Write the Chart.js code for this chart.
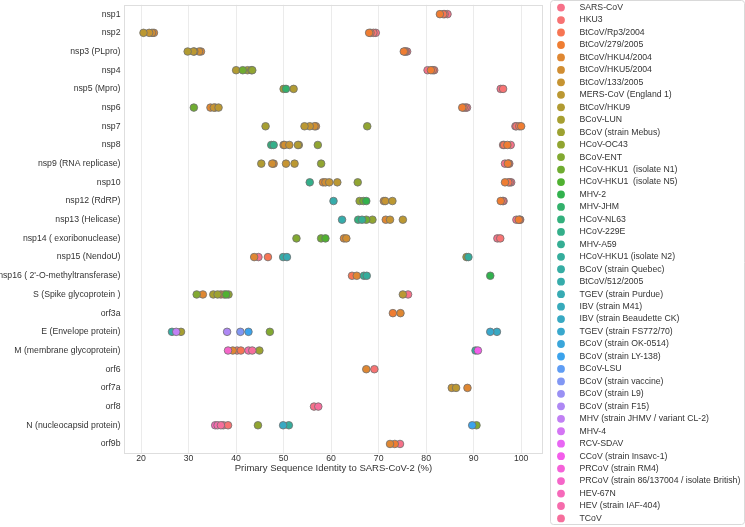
<!DOCTYPE html>
<html>
<head>
<meta charset="utf-8">
<script src="https://cdn.jsdelivr.net/npm/chart.js@4.4.0/dist/chart.umd.min.js"></script>
<style>
  html, body { margin: 0; padding: 0; background: #fff; }
</style>
</head>
<body>
<canvas id="stripChart" width="745" height="527"></canvas>
<script>
// Protein rows (top to bottom)
const proteins = ["nsp1", "nsp2", "nsp3 (PLpro)", "nsp4", "nsp5 (Mpro)", "nsp6", "nsp7", "nsp8",
    "nsp9 (RNA replicase)", "nsp10", "nsp12 (RdRP)", "nsp13 (Helicase)", "nsp14 ( exoribonuclease)",
    "nsp15 (NendoU)", "nsp16 ( 2'-O-methyltransferase)", "S (Spike glycoprotein )", "orf3a",
    "E (Envelope protein)", "M (membrane glycoprotein)", "orf6", "orf7a", "orf8",
    "N (nucleocapsid protein)", "orf9b"];

const xTicks = [20, 30, 40, 50, 60, 70, 80, 90, 100];

const _ = null;
// columns: nsp1..nsp5 | nsp6..nsp10 | nsp12..nsp16 | S orf3a E M orf6 | orf7a orf8 N orf9b
const sarsCoV      = [84.5, 69.4, 76.0, 80.3, 95.7,  88.6, 98.8, 97.8, 96.6, 97.9,  96.3, 99.0, 95.0, 44.7, _,  76.2, _, _, _, _,  _, 56.4, 37.3, 74.5];
const hku3         = [83.9, 68.9, 75.7, 81.7, 96.2,  88.3, 99.0, 96.2, 97.5, 97.6,  96.1, 99.8, 95.6, _, _,  _, _, _, 40.2, 69.1,  _, _, 38.3, _];
const btRp3        = [83.6, 68.3, 75.5, 81.4, _,  87.9, 99.6, 96.4, 97.3, 97.3,  _, 99.7, _, 46.7, 64.4,  36.8, _, _, 41.0, _,  _, _, _, _];
const bt279        = [82.9, 68.0, 75.3, 81.0, _,  87.6, 100, 97.1, 97.2, 96.6,  95.7, 99.5, _, _, _,  _, 73.0, _, _, _,  _, _, _, 73.4];
const btHku4       = [_, 22.7, 32.6, _, _,  34.6, 56.8, 50.0, 47.9, 58.3,  71.1, 71.5, 62.7, 43.8, 65.4,  33.0, 74.6, _, 39.3, 67.4,  88.7, _, _, 72.4];
const btHku5       = [_, 22.3, 32.2, _, _,  35.6, 56.5, 50.2, 47.6, 58.8,  _, _, 63.2, _, _,  37.5, _, _, _, _,  _, _, _, _];
const bt133        = [_, 21.7, 31.2, _, _,  35.3, 55.5, 51.2, 50.5, 59.6,  71.4, 72.4, _, _, _,  _, _, _, _, _,  85.4, _, _, _];
const mersCoV      = [_, 20.5, 31.0, _, _,  36.3, 54.4, 53.2, 52.3, 61.3,  72.9, 75.1, _, _, _,  75.1, _, _, _, _,  86.3, _, _, _];
const btHku9       = [_, _, 29.8, 40.0, 52.1,  _, _, 53.0, 45.3, _,  _, _, _, _, _,  _, _, _, _, _,  _, _, _, _];
const bcovLun      = [_, _, _, 42.4, 50.0,  _, 46.2, _, _, _,  _, _, _, 88.5, _,  35.2, _, 28.4, _, _,  _, _, _, _];
const bcovMebus    = [_, _, _, 43.2, _,  _, _, _, _, _,  _, _, _, _, _,  36.1, _, _, 44.9, _,  _, _, _, _];
const hcovOc43     = [_, _, _, 43.4, _,  _, 67.6, 57.2, 57.9, 65.6,  66.0, 68.7, _, _, _,  38.4, _, _, _, _,  _, _, 44.6, _];
const bcovEnt      = [_, _, _, _, _,  _, _, _, _, _,  _, _, 52.7, _, _,  31.7, _, 47.1, _, _,  _, _, 90.6, _];
const hku1N1       = [_, _, _, 41.4, _,  31.1, _, _, _, _,  66.8, 67.4, 57.9, _, _,  _, _, _, _, _,  _, _, _, _];
const hku1N5       = [_, _, _, _, _,  _, _, _, _, _,  _, _, 58.8, _, _,  37.9, _, _, _, _,  _, _, _, _];
const mhv2         = [_, _, _, _, _,  _, _, _, _, _,  67.4, _, _, _, 93.5,  _, _, _, _, _,  _, _, _, _];
const mhvJhm       = [_, _, _, _, 50.5,  _, _, _, _, _,  _, _, _, _, _,  _, _, _, _, _,  _, _, _, _];
const hcovNl63     = [_, _, _, _, _,  _, _, 47.4, _, _,  _, 65.7, _, _, _,  _, _, _, _, _,  _, _, _, _];
const hcov229e     = [_, _, _, _, _,  _, _, 47.9, _, 55.5,  _, _, _, _, _,  _, _, _, _, _,  _, _, _, _];
const mhvA59       = [_, _, _, _, _,  _, _, _, _, _,  _, 66.5, _, _, 66.9,  _, _, _, _, _,  _, _, _, _];
const hku1N2       = [_, _, _, _, _,  _, _, _, _, _,  _, _, _, 88.9, 67.5,  _, _, _, 90.4, _,  _, _, 51.1, _];
const bcovQuebec   = [_, _, _, _, _,  _, _, _, _, _,  _, _, _, 49.9, _,  _, _, 26.5, _, _,  _, _, _, _];
const bt512        = [_, _, _, _, _,  _, _, _, _, _,  60.5, 62.3, _, _, _,  _, _, _, _, _,  _, _, _, _];
const tgevPurdue   = [_, _, _, _, _,  _, _, _, _, _,  _, _, _, 50.7, _,  _, _, _, _, _,  _, _, _, _];
const ibvM41       = [];
const ibvBeaudette = [_, _, _, _, _,  _, _, _, _, _,  _, _, _, _, _,  _, _, 94.9, _, _,  _, _, 49.9, _];
const tgevFs772    = [_, _, _, _, _,  _, _, _, _, _,  _, _, _, _, _,  _, _, 93.5, _, _,  _, _, _, _];
const bcovOk0514   = [];
const bcovLy138    = [_, _, _, _, _,  _, _, _, _, _,  _, _, _, _, _,  _, _, 42.6, _, _,  _, _, 89.7, _];
const bcovLsu      = [];
const bcovVaccine  = [_, _, _, _, _,  _, _, _, _, _,  _, _, _, _, _,  _, _, 40.9, _, _,  _, _, _, _];
const bcovL9       = [];
const bcovF15      = [_, _, _, _, _,  _, _, _, _, _,  _, _, _, _, _,  _, _, 38.1, _, _,  _, _, _, _];
const mhvJhmv      = [_, _, _, _, _,  _, _, _, _, _,  _, _, _, _, _,  _, _, 27.4, _, _,  _, _, _, _];
const mhv4         = [];
const rcvSdav      = [];
const ccovInsavc   = [_, _, _, _, _,  _, _, _, _, _,  _, _, _, _, _,  _, _, _, 90.9, _,  _, _, _, _];
const prcovRm4     = [];
const prcov86      = [_, _, _, _, _,  _, _, _, _, _,  _, _, _, _, _,  _, _, _, 38.3, _,  _, _, _, _];
const hev67n       = [_, _, _, _, _,  _, _, _, _, _,  _, _, _, _, _,  _, _, _, _, _,  _, _, 35.6, _];
const hevIaf       = [_, _, _, _, _,  _, _, _, _, _,  _, _, _, _, _,  _, _, _, 42.6, _,  _, _, 36.1, _];
const tcov         = [_, _, _, _, _,  _, _, _, _, _,  _, _, _, _, _,  _, _, _, 43.4, _,  _, 57.3, 36.8, _];

const strains = [
    ["SARS-CoV", sarsCoV], ["HKU3", hku3], ["BtCoV/Rp3/2004", btRp3], ["BtCoV/279/2005", bt279],
    ["BtCoV/HKU4/2004", btHku4], ["BtCoV/HKU5/2004", btHku5], ["BtCoV/133/2005", bt133],
    ["MERS-CoV (England 1)", mersCoV], ["BtCoV/HKU9", btHku9], ["BCoV-LUN", bcovLun],
    ["BCoV (strain Mebus)", bcovMebus], ["HCoV-OC43", hcovOc43], ["BCoV-ENT", bcovEnt],
    ["HCoV-HKU1  (isolate N1)", hku1N1], ["HCoV-HKU1  (isolate N5)", hku1N5], ["MHV-2", mhv2],
    ["MHV-JHM", mhvJhm], ["HCoV-NL63", hcovNl63], ["HCoV-229E", hcov229e], ["MHV-A59", mhvA59],
    ["HCoV-HKU1 (isolate N2)", hku1N2], ["BCoV (strain Quebec)", bcovQuebec], ["BtCoV/512/2005", bt512],
    ["TGEV (strain Purdue)", tgevPurdue], ["IBV (strain M41)", ibvM41], ["IBV (strain Beaudette CK)", ibvBeaudette],
    ["TGEV (strain FS772/70)", tgevFs772], ["BCoV (strain OK-0514)", bcovOk0514], ["BCoV (strain LY-138)", bcovLy138],
    ["BCoV-LSU", bcovLsu], ["BCoV (strain vaccine)", bcovVaccine], ["BCoV (strain L9)", bcovL9],
    ["BCoV (strain F15)", bcovF15], ["MHV (strain JHMV / variant CL-2)", mhvJhmv], ["MHV-4", mhv4],
    ["RCV-SDAV", rcvSdav], ["CCoV (strain Insavc-1)", ccovInsavc], ["PRCoV (strain RM4)", prcovRm4],
    ["PRCoV (strain 86/137004 / isolate British)", prcov86], ["HEV-67N", hev67n],
    ["HEV (strain IAF-404)", hevIaf], ["TCoV", tcov]
];

// seaborn-style husl palette
function huslToRgb(h, s, l) {
    const m = [[3.2406, -1.5372, -0.4986], [-0.9689, 1.8758, 0.0415], [0.0557, -0.2040, 1.0570]];
    const refU = 0.19784, refV = 0.46834, labE = 0.008856, labK = 903.3;
    const hrad = h * Math.PI / 180;
    const sinH = Math.sin(hrad), cosH = Math.cos(hrad);
    const sub1 = Math.pow(l + 16, 3) / 1560896;
    const sub2 = sub1 > labE ? sub1 : l / labK;
    let maxC = Infinity;
    m.forEach(([m1, m2, m3]) => {
        const top = (0.99915 * m1 + 1.05122 * m2 + 1.14460 * m3) * sub2;
        const rb = 0.86330 * m3 - 0.17266 * m2;
        const lb = 0.12949 * m3 - 0.38848 * m1;
        const bottom = (rb * sinH + lb * cosH) * sub2;
        [0, 1].forEach(t => {
            const c = l * (top - 1.05122 * t) / (bottom + 0.17266 * sinH * t);
            if (c > 0 && c < maxC) maxC = c;
        });
    });
    const C = maxC / 100 * s;
    const U = Math.cos(hrad) * C, V = Math.sin(hrad) * C;
    const t = (l + 16) / 116;
    const Y = Math.pow(t, 3) > labE ? Math.pow(t, 3) : (116 * t - 16) / labK;
    const vu = U / (13 * l) + refU, vv = V / (13 * l) + refV;
    const X = -(9 * Y * vu) / ((vu - 4) * vv - vu * vv);
    const Z = (9 * Y - 15 * vv * Y - vv * X) / (3 * vv);
    const rgb = m.map(r => {
        const c = r[0] * X + r[1] * Y + r[2] * Z;
        const v = c <= 0.0031308 ? 12.92 * c : 1.055 * Math.pow(c, 1 / 2.4) - 0.055;
        return Math.round(Math.min(1, Math.max(0, v)) * 255);
    });
    return `rgb(${rgb[0]}, ${rgb[1]}, ${rgb[2]})`;
}

const colors = strains.map((s, i) => huslToRgb(((i / strains.length) + 0.01) % 1 * 359, 0.9 * 99, 0.65 * 99));

const textColor = "#333333";
const fontFamily = "'Liberation Sans', Arial, sans-serif";

// Box frame around the plot area
const framePlugin = {
    id: "frame",
    beforeDatasetsDraw(chart) {
        const { ctx, chartArea: a } = chart;
        ctx.save();
        ctx.strokeStyle = "#dedede";
        ctx.lineWidth = 1;
        ctx.strokeRect(Math.round(a.left) + 0.5, Math.round(a.top) + 0.5,
            Math.round(a.right - a.left) - 1, Math.round(a.bottom - a.top) - 1);
        ctx.restore();
    }
};

// Legend box on the right, like matplotlib's outside legend
const sideLegend = {
    id: "sideLegend",
    afterDraw(chart) {
        const ctx = chart.ctx;
        ctx.save();
        ctx.fillStyle = "#fff";
        ctx.strokeStyle = "#d9d9d9";
        ctx.lineWidth = 1;
        ctx.beginPath();
        ctx.roundRect(550.5, 0.5, 194, 524, 3);
        ctx.fill();
        ctx.stroke();
        ctx.font = `8.7px ${fontFamily}`;
        ctx.textBaseline = "middle";
        strains.forEach(([name], i) => {
            const y = 7.6 + i * 12.46;
            ctx.fillStyle = colors[i];
            ctx.beginPath();
            ctx.arc(561, y, 3.9, 0, Math.PI * 2);
            ctx.fill();
            ctx.fillStyle = textColor;
            ctx.fillText(name, 579.5, y);
        });
        ctx.restore();
    }
};

const datasets = strains.map(([name, vals], i) => ({
    label: name,
    data: proteins.map((p, j) => vals[j] == null ? null : { x: vals[j], y: p }).filter(Boolean),
    backgroundColor: colors[i],
    borderColor: "#6e6e6e",
    borderWidth: 0.8,
    pointRadius: 3.8,
    order: strains.length - i
}));

new Chart(document.getElementById("stripChart"), {
    type: "scatter",
    data: { datasets },
    options: {
        responsive: false,
        animation: false,
        devicePixelRatio: 1,
        layout: { padding: { left: 0, right: 202, top: 1.3, bottom: 48.5 } },
        plugins: {
            legend: { display: false },
            tooltip: { enabled: false }
        },
        scales: {
            x: {
                type: "linear",
                min: 16.4,
                max: 104.6,
                afterBuildTicks: s => { s.ticks = xTicks.map(v => ({ value: v })); },
                afterFit: s => { s.height = 25.2; s.paddingLeft = 0; s.paddingRight = 0; },
                grid: { color: "#ebebeb", drawTicks: false },
                border: { display: false },
                ticks: { color: textColor, font: { family: fontFamily, size: 8.7 }, padding: 0 },
                title: {
                    display: true,
                    text: "Primary Sequence Identity to SARS-CoV-2 (%)",
                    color: textColor,
                    font: { family: fontFamily, size: 9.5 },
                    padding: { top: 0, bottom: 4 }
                }
            },
            y: {
                type: "category",
                labels: proteins,
                offset: true,
                afterFit: s => { s.width = 124; s.paddingTop = 0; s.paddingBottom = 0; },
                grid: { display: false, drawTicks: false },
                border: { display: false },
                ticks: { color: textColor, font: { family: fontFamily, size: 8.7 }, padding: 3.5, autoSkip: false }
            }
        }
    },
    plugins: [framePlugin, sideLegend]
});
</script>
</body>
</html>
